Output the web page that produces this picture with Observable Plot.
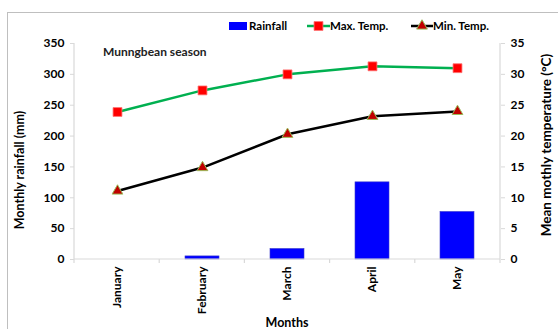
<!DOCTYPE html>
<html>
<head>
<meta charset="utf-8">
<script src="https://cdn.jsdelivr.net/npm/d3@7"></script>
<script src="https://cdn.jsdelivr.net/npm/@observablehq/plot@0.6"></script>
<style>
  html, body { margin: 0; padding: 0; background: #fff; }
  #chart { width: 558px; height: 329px; overflow: hidden; }
  #chart svg { overflow: hidden; }
</style>
</head>
<body>
<div id="chart"></div>
<script>
// Mungbean season climate: monthly rainfall (bars, left axis) and
// mean maximum / minimum temperature (lines, right axis).
const months = ["January", "February", "March", "April", "May"];
const rainfall = [0, 5, 17, 125, 77];          // mm
const maxTemp = [23.9, 27.4, 30.0, 31.3, 31.0]; // °C
const minTemp = [11.1, 14.9, 20.3, 23.2, 24.0]; // °C
const rainTicks = [0, 50, 100, 150, 200, 250, 300, 350];
const tempTicks = [0, 5, 10, 15, 20, 25, 30, 35];

// Temperatures share the rainfall scale: 35 °C sits level with 350 mm.
const factor = d3.max(rainTicks) / d3.max(tempTicks);

const rows = months.map((m, i) => ({
  month: m, rain: rainfall[i], tmax: maxTemp[i], tmin: minTemp[i]
}));

const font = "Lato, 'Open Sans', 'DejaVu Sans', sans-serif";
const axisGrey = "#d9d9d9";

const plot = Plot.plot({
  width: 558,
  height: 329,
  marginLeft: 74,
  marginRight: 58,
  marginTop: 43,
  marginBottom: 70,
  style: { fontFamily: font, fontSize: "12px", fontWeight: "bold", color: "#000", background: "#fff" },
  x: { type: "band", domain: months, paddingInner: 0.6, paddingOuter: 0.3 },
  y: { domain: [0, d3.max(rainTicks)] },
  marks: [
    Plot.barY(rows, { x: "month", y: "rain", fill: "#0000ff", stroke: "#3a3acc", strokeWidth: 0.6 }),
    Plot.axisY(rainTicks, { anchor: "left", tickSize: 4, tickPadding: 6, stroke: axisGrey, fill: "#000", label: null }),
    Plot.axisY(tempTicks.map(t => t * factor), {
      anchor: "right", tickSize: 4, tickPadding: 6, stroke: axisGrey, fill: "#000",
      tickFormat: d => d / factor, label: null
    }),
    Plot.axisX({ tickRotate: -90, tickSize: 0, tickPadding: 7, fill: "#000", label: null }),
    Plot.line(rows, { x: "month", y: d => d.tmax * factor, stroke: "#00b050", strokeWidth: 2.5 }),
    Plot.line(rows, { x: "month", y: d => d.tmin * factor, stroke: "#000", strokeWidth: 2.5 }),
    Plot.dot(rows, { x: "month", y: d => d.tmax * factor, symbol: "square", r: 5, fill: "#ff0000", stroke: "#ff7070", strokeWidth: 0.8 }),
    Plot.dot(rows, { x: "month", y: d => d.tmin * factor, symbol: "triangle", r: 4, fill: "#c00000", stroke: "#9bbb59", strokeWidth: 1 })
  ]
});

document.getElementById("chart").appendChild(plot);

// Axis lines, category separators, frame, legend and titles.
const svg = d3.select(plot);
const xs = plot.scale("x");
const ys = plot.scale("y");
const [x0, x1] = xs.range;
const yBottom = ys.apply(0);
const yTop = ys.apply(d3.max(rainTicks));
const step = (x1 - x0) / months.length;

const deco = svg.insert("g", ":first-child").attr("fill", "none");
deco.append("rect")
  .attr("x", 7.5).attr("y", 12.5).attr("width", 700).attr("height", 500)
  .attr("stroke", "#bfbfbf").attr("stroke-width", 1);

const axes = svg.append("g").attr("stroke", axisGrey).attr("stroke-width", 1.2);
axes.append("line").attr("x1", x0).attr("x2", x0).attr("y1", yTop).attr("y2", yBottom);
axes.append("line").attr("x1", x1).attr("x2", x1).attr("y1", yTop).attr("y2", yBottom);
axes.append("line").attr("x1", x0).attr("x2", x1).attr("y1", yBottom).attr("y2", yBottom);
d3.range(months.length + 1).forEach(i => {
  const x = x0 + i * step;
  axes.append("line").attr("x1", x).attr("x2", x).attr("y1", yBottom).attr("y2", yBottom + 4);
});
// keep the data marks above the axis lines
svg.selectAll("g[aria-label='line'], g[aria-label='dot']").raise();

const txt = svg.append("g").attr("font-family", font).attr("font-weight", "bold").attr("fill", "#000");

txt.append("text").attr("x", 103).attr("y", 56).attr("text-anchor", "start")
  .attr("font-size", 12).attr("fill", "#222").text("Munngbean season");

txt.append("text")
  .attr("transform", `translate(24,170) rotate(-90)`)
  .attr("text-anchor", "middle").attr("font-size", 12.5)
  .text("Monthly rainfall (mm)");

txt.append("text")
  .attr("transform", `translate(551,145) rotate(-90)`)
  .attr("text-anchor", "middle").attr("font-size", 13.5)
  .text("Mean mothly temperature (°C)");

txt.append("text")
  .attr("x", (x0 + x1) / 2).attr("y", 327)
  .attr("text-anchor", "middle").attr("font-size", 12.5)
  .text("Months");

// Legend
const lg = svg.append("g").attr("font-family", font).attr("font-weight", "bold")
  .attr("font-size", 11.5).attr("text-anchor", "start");
const ly = 26;
lg.append("rect").attr("x", 229).attr("y", ly - 4).attr("width", 18).attr("height", 8).attr("fill", "#0000ff");
lg.append("text").attr("x", 249).attr("y", ly + 4).text("Rainfall");

lg.append("line").attr("x1", 307).attr("x2", 330).attr("y1", ly).attr("y2", ly)
  .attr("stroke", "#00b050").attr("stroke-width", 2.5);
lg.append("path").attr("transform", `translate(318.5,${ly})`)
  .attr("d", d3.symbol(d3.symbolSquare, Math.PI * 25)())
  .attr("fill", "#ff0000").attr("stroke", "#ff7070").attr("stroke-width", 0.8);
lg.append("text").attr("x", 330).attr("y", ly + 4).text("Max. Temp.");

lg.append("line").attr("x1", 411).attr("x2", 433).attr("y1", ly).attr("y2", ly)
  .attr("stroke", "#000").attr("stroke-width", 2.5);
lg.append("path").attr("transform", `translate(422,${ly})`)
  .attr("d", d3.symbol(d3.symbolTriangle, Math.PI * 16)())
  .attr("fill", "#c00000").attr("stroke", "#9bbb59").attr("stroke-width", 1);
lg.append("text").attr("x", 433).attr("y", ly + 4).text("Min. Temp.");
</script>
</body>
</html>
